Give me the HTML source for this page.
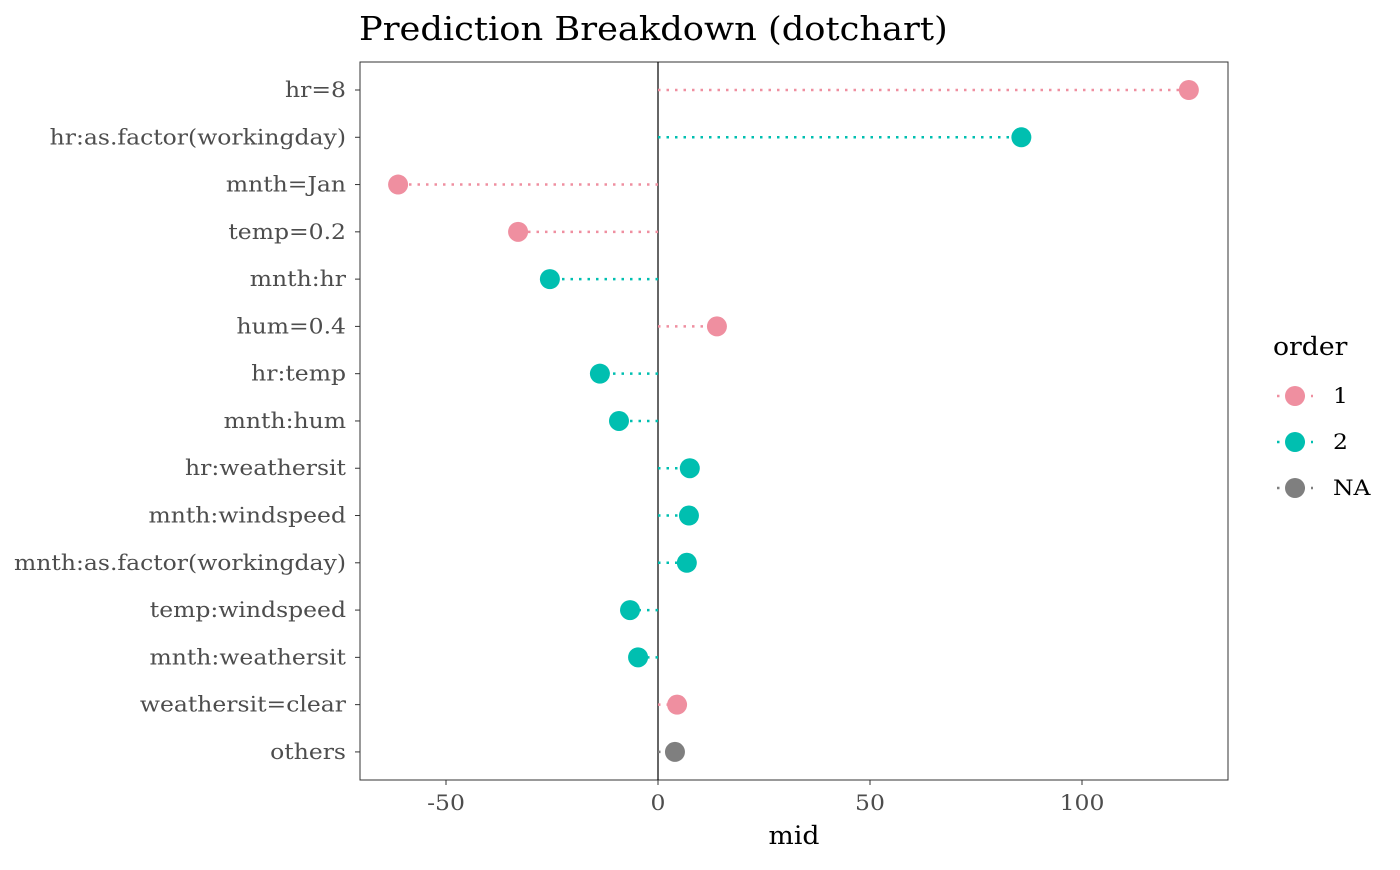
<!DOCTYPE html>
<html><head><meta charset="utf-8"><style>
html,body{margin:0;padding:0;background:#fff;}
svg text{font-family:"DejaVu Serif","Liberation Serif",serif;}
</style></head><body>
<svg id="chart" width="1400" height="865" xmlns="http://www.w3.org/2000/svg">
<text class="big" x="359" y="40" font-size="33" fill="#000">Prediction Breakdown (dotchart)</text>
<rect x="360" y="62" width="868" height="718" fill="none" stroke="#333" stroke-width="1"/>
<g id="marks"></g>
<text class="big" x="794" y="844" font-size="25" text-anchor="middle" fill="#000">mid</text>
<g>
<text class="big" x="1273" y="355" font-size="25" fill="#000">order</text>
<g id="legend"></g>
</g>
</svg>
<script>
const labels=["hr=8","hr:as.factor(workingday)","mnth=Jan","temp=0.2","mnth:hr","hum=0.4","hr:temp","mnth:hum","hr:weathersit","mnth:windspeed","mnth:as.factor(workingday)","temp:windspeed","mnth:weathersit","weathersit=clear","others"];
const values=[125.2,85.7,-61.3,-33,-25.5,13.9,-13.7,-9.2,7.5,7.3,6.8,-6.6,-4.7,4.5,4.0];
const orders=["1","2","1","1","2","1","2","2","2","2","2","2","2","1","NA"];
const xTicks=[-50,0,50,100];
const legendKeys=["1","2","NA"];
const colors={"1":"#ef8fa0","2":"#00bfb0","NA":"#7f7f7f"};
const NS="http://www.w3.org/2000/svg";
const xs=v=>658+v*4.24;
const ys=i=>90+i*47.28;
const g=document.getElementById('marks');
function mk(t,a,p){const e=document.createElementNS(NS,t);for(const k in a)e.setAttribute(k,a[k]);(p||g).appendChild(e);return e;}
const zl=mk('line',{x1:xs(0),x2:xs(0),y1:62,y2:780,stroke:'#000','stroke-width':1.2});


xTicks.forEach(t=>{
 const tk=mk('line',{x1:xs(t),x2:xs(t),y1:780,y2:785,stroke:'#333'});
 
 
 const tl=mk('text',{x:xs(t),y:810,'font-size':21,'text-anchor':'middle',fill:'#4d4d4d','class':'sm'});tl.textContent=t;
 
 
});
labels.forEach((l,i)=>{
 const y=ys(i),c=colors[orders[i]];
 const tk=mk('line',{x1:355,x2:360,y1:y,y2:y,stroke:'#333'});
 
 
 const tl=mk('text',{x:346,y:y+7,'font-size':21,'text-anchor':'end',fill:'#4d4d4d','class':'sm'});tl.textContent=l;
 
 
 const ln=mk('line',{x1:xs(0),x2:xs(values[i]),y1:y,y2:y,stroke:c,'stroke-width':2.5,'stroke-dasharray':'2.5,6'});
 
 
 const pt=mk('circle',{cx:xs(values[i]),cy:y,r:10,fill:c});
 
 
});
const lg=document.getElementById('legend');
legendKeys.forEach((k,i)=>{
 const y=396+i*46,c=colors[k];
 const ln=mk('line',{x1:1277,x2:1313,y1:y,y2:y,stroke:c,'stroke-width':2.5,'stroke-dasharray':'2.5,6'},lg);
 
 
 const pt=mk('circle',{cx:1295,cy:y,r:10,fill:c},lg);
 
 
 const t=mk('text',{x:1333,y:y+7,'font-size':21,fill:'#000','class':'sm'},lg);t.textContent=k;
 
 
});
document.querySelectorAll('text.sm').forEach(t=>{const w=t.getComputedTextLength();t.setAttribute('textLength',w*1.118);t.setAttribute('lengthAdjust','spacingAndGlyphs');});
document.querySelectorAll('text.big').forEach(t=>{const w=t.getComputedTextLength();t.setAttribute('textLength',w*1.067);t.setAttribute('lengthAdjust','spacingAndGlyphs');});
</script>
</body></html>
